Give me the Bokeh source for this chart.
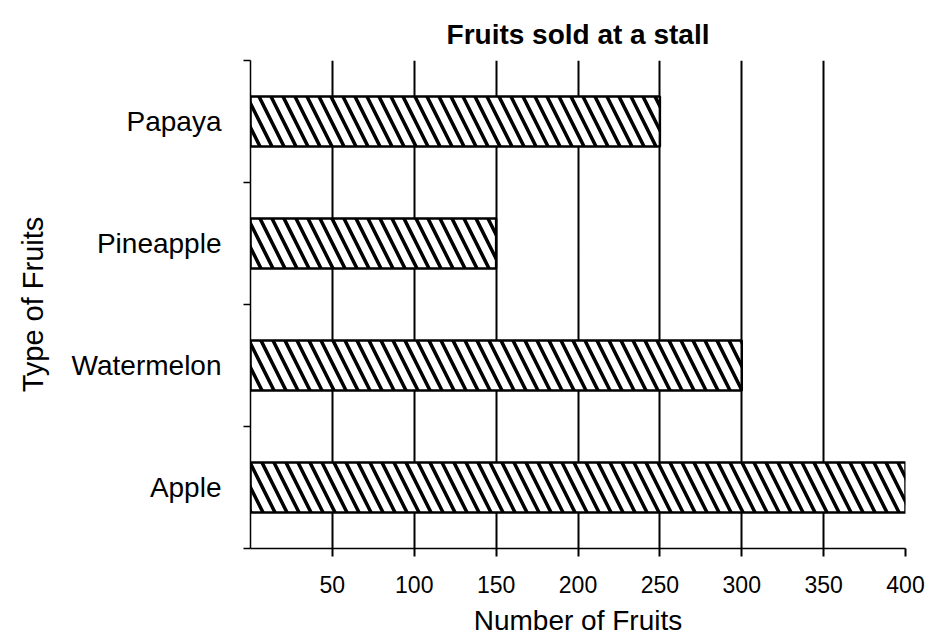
from bokeh.plotting import figure
from bokeh.models import FixedTicker, Range1d, ColumnDataSource
from bokeh.embed import file_html
from bokeh.resources import INLINE

# Data (bottom to top)
categories = ["Apple", "Watermelon", "Pineapple", "Papaya"]
values = [400, 300, 150, 250]
x_ticks = [50, 100, 150, 200, 250, 300, 350, 400]

positions = [i + 0.5 for i in range(len(categories))]
boundaries = list(range(len(categories) + 1))

FONT = "Liberation Sans"

p = figure(width=930, height=638, x_range=Range1d(0, 400), y_range=Range1d(0, len(categories)),
           output_backend="svg", toolbar_location=None,
           min_border_left=250, min_border_right=25, min_border_top=60, min_border_bottom=78)

src = ColumnDataSource(dict(y=positions, right=values, cat=categories))
p.hbar(y="y", right="right", left=0, height=0.41, source=src,
       fill_color="white", line_color="black", line_width=2.5,
       hatch_pattern="\\", hatch_color="black", hatch_weight=3.5, hatch_scale=24)

p.outline_line_color = None
p.ygrid.visible = False
p.xgrid.ticker = FixedTicker(ticks=x_ticks)
p.xgrid.grid_line_color = "black"
p.xgrid.grid_line_width = 2
p.xgrid.grid_line_alpha = 1.0

# title
p.title.text = "Fruits sold at a stall"
p.title.align = "center"
p.title.text_font = FONT
p.title.text_font_size = "28px"
p.title.text_font_style = "bold"
p.title.text_color = "black"
p.title.standoff = 22

# x axis
xa = p.xaxis[0]
xa.ticker = FixedTicker(ticks=x_ticks)
xa.axis_label = "Number of Fruits"
xa.axis_label_text_font = FONT
xa.axis_label_text_font_size = "28px"
xa.axis_label_text_font_style = "normal"
xa.axis_label_text_color = "black"
xa.axis_label_standoff = 9
xa.major_label_text_font = FONT
xa.major_label_text_font_size = "23px"
xa.major_label_text_color = "black"
xa.major_label_standoff = 19
xa.major_tick_out = 8
xa.major_tick_in = 0
xa.major_tick_line_width = 2
xa.major_tick_line_color = "black"
xa.minor_tick_line_color = None
xa.axis_line_width = 1.5
xa.axis_line_color = "black"

# y axis
ya = p.yaxis[0]
ya.ticker = FixedTicker(ticks=positions, minor_ticks=boundaries)
ya.major_label_overrides = {pos: name for pos, name in zip(positions, categories)}
ya.axis_label = "Type of Fruits"
ya.axis_label_text_font = FONT
ya.axis_label_text_font_size = "29px"
ya.axis_label_text_font_style = "normal"
ya.axis_label_text_color = "black"
ya.axis_label_standoff = 20
ya.major_label_text_font = FONT
ya.major_label_text_font_size = "28px"
ya.major_label_text_color = "black"
ya.major_label_standoff = 22
ya.major_tick_line_color = None
ya.major_tick_out = 0
ya.major_tick_in = 0
ya.minor_tick_out = 7
ya.minor_tick_in = 0
ya.minor_tick_line_color = "black"
ya.minor_tick_line_width = 1.5
ya.axis_line_width = 1.5
ya.axis_line_color = "black"

open("out.html", "w").write(file_html(p, INLINE))
